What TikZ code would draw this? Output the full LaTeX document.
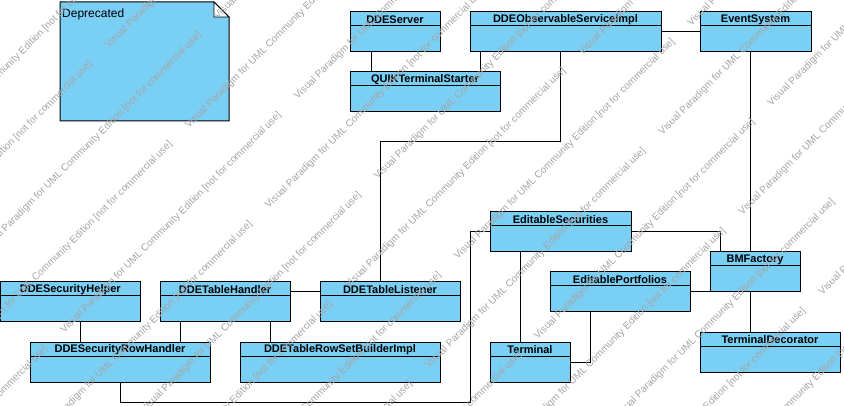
\documentclass[tikz,border=0pt]{standalone}
\usepackage{fontspec}
\setmainfont{Liberation Sans}
\usetikzlibrary{calc, positioning}
\definecolor{vpblue}{RGB}{122,207,245}
\definecolor{wmgray}{RGB}{165,165,165}

\tikzset{
  classbox/.style={draw, fill=vpblue, line width=1pt, outer sep=0pt, inner sep=0pt, anchor=north west},
  classname/.style={font=\fontsize{11}{12}\selectfont\bfseries, inner sep=0pt},
  assoc/.style={line width=1pt},
  watermark/.style={font=\fontsize{10}{11}\selectfont, text=wmgray, rotate=45, anchor=west, inner sep=0pt},
}

% class box: name, top-left corner, width, height, title
\newcommand{\umlclass}[5]{%
  \node[classbox, minimum width=#3pt, minimum height=#4pt] (#1) at (#2) {};
  \draw[line width=1pt] ($(#1.north west)+(0,14)$) -- ($(#1.north east)+(0,14)$);
  \node[classname] (#1-name) at ($(#1.north)+(0,7.5)$) {#5};
}

\begin{document}
\begin{tikzpicture}[x=1pt, y=-1pt]
  \useasboundingbox (0,0) rectangle (844,406);

  % deprecated note
  \draw[fill=vpblue, line width=1pt] (60,2) -- (214,2) -- (229,17) -- (229,121) -- (60,121) -- cycle;
  \draw[fill=white, line width=0.8pt] (214,2) -- (214,17) -- (229,17) -- cycle;
  \node[font=\fontsize{12}{13}\selectfont, inner sep=0pt, anchor=west] (depr) at (62,14) {Deprecated};

  % top row
  \umlclass{ds}{350,12}{90}{40}{DDEServer}
  \umlclass{dobs}{470,12}{191}{40}{DDEObservableServiceImpl}
  \umlclass{evs}{700,12}{111}{40}{EventSystem}
  \umlclass{qts}{350,72}{150}{40}{QUIKTerminalStarter}

  % editable model
  \umlclass{eds}{490,212}{141}{40}{EditableSecurities}
  \umlclass{bmf}{710,252}{90}{40}{BMFactory}
  \umlclass{edp}{550,272}{140}{40}{EditablePortfolios}
  \umlclass{term}{490,342}{80}{40}{Terminal}
  \umlclass{tdec}{700,332}{140}{40}{TerminalDecorator}

  % dde handlers
  \umlclass{helper}{0.5,282}{139.5}{40}{DDESecurityHelper}
  \umlclass{tabh}{160,282}{130}{40}{DDETableHandler}
  \umlclass{lstn}{320,282}{140}{40}{DDETableListener}
  \umlclass{rowh}{30,342}{180}{40}{DDESecurityRowHandler}
  \umlclass{rsb}{240,342}{200}{40}{DDETableRowSetBuilderImpl}

  % associations
  \draw[assoc] (ds.south -| 371,0) -- (qts.north -| 371,0);
  \draw[assoc] (dobs.south -| 480,0) -- (qts.north -| 480,0);
  \draw[assoc] (dobs.east |- 0,32) -- (evs.west |- 0,32);
  \draw[assoc] (dobs.south -| 560,0) |- (380,142) -- (lstn.north -| 380,0);
  \draw[assoc] (evs.south -| 750,0) -- (bmf.north -| 750,0);
  \draw[assoc] (eds.east |- 0,232) -| (bmf.north -| 720,0);
  \draw[assoc] (eds.south -| 520,0) -- (term.north -| 520,0);
  \draw[assoc] (eds.west |- 0,232) -| (470,402) -| (rowh.south -| 120,0);
  \draw[assoc] (edp.east |- 0,292) -- (bmf.west |- 0,292);
  \draw[assoc] (edp.south -| 590,0) |- (term.east |- 0,362);
  \draw[assoc] (bmf.south -| 750,0) -- (tdec.north -| 750,0);
  \draw[assoc] (helper.south -| 80,0) -- (rowh.north -| 80,0);
  \draw[assoc] (tabh.south -| 180,0) -- (rowh.north -| 180,0);
  \draw[assoc] (tabh.south -| 270,0) -- (rsb.north -| 270,0);
  \draw[assoc] (tabh.east |- 0,292) -- (lstn.west |- 0,292);

  % watermark
  \begin{scope}
    \clip (0,0) rectangle (844,406);
    \foreach \j in {-2,...,15}{
      \pgfmathsetmacro{\s}{154+80*\j}
      \pgfmathsetmacro{\tz}{60+138*mod(\j+4,2)}
      \foreach \n in {-3,...,2}{
        \pgfmathsetmacro{\tt}{\tz+467*\n}
        \node[watermark] (wm-\j-\n) at ({(\s+\tt)/2},{(\s-\tt)/2})
          {Visual Paradigm for UML Community Edition [not for commercial use]};
      }
    }
  \end{scope}
\end{tikzpicture}
\end{document}
